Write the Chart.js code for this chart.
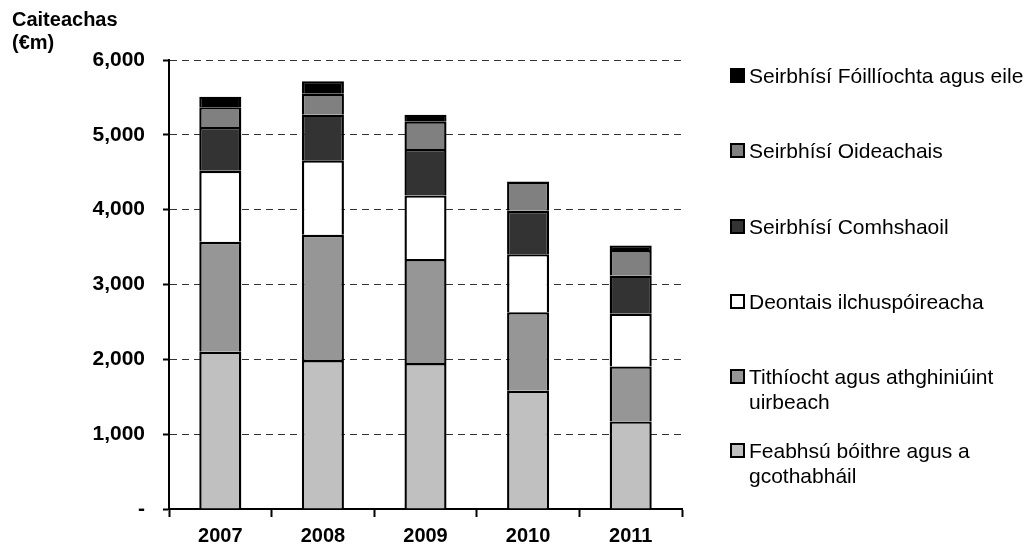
<!DOCTYPE html>
<html>
<head>
<meta charset="utf-8">
<script src="https://cdn.jsdelivr.net/npm/chart.js@4"></script>
<style>
    html, body { margin: 0; padding: 0; background: #fff; }
    #wrap { position: relative; width: 1034px; height: 549px; font-family: "Liberation Sans", Arial, sans-serif; }
    #title { position: absolute; left: 12px; top: 8px; font-weight: bold; font-size: 20px; line-height: 23px; color: #000; }
    .leg-item { position: absolute; left: 730px; font-size: 21px; line-height: 25px; color: #000; }
    .leg-box { position: absolute; left: 0; top: 5px; width: 11px; height: 11px; border: 2px solid #000; }
    .leg-text { position: absolute; left: 19px; top: 0; width: 300px; white-space: nowrap; }
</style>
</head>
<body>
<div id="wrap">
    <canvas id="spendChart"></canvas>
    <div id="title">Caiteachas<br>(€m)</div>
</div>
<script>
'use strict';

const years = ['2007', '2008', '2009', '2010', '2011'];

// stack order bottom to top
const roads = [2100, 1990, 1950, 1580, 1170];
const housing = [1470, 1675, 1390, 1050, 735];
const multiGrants = [950, 995, 850, 775, 705];
const environment = [585, 610, 620, 580, 510];
const education = [265, 280, 370, 390, 340];
const leisure = [140, 165, 90, 0, 60];

const seriesNames = [
    'Feabhsú bóithre agus a gcothabháil',
    'Tithíocht agus athghiniúint uirbeach',
    'Deontais ilchuspóireacha',
    'Seirbhísí Comhshaoil',
    'Seirbhísí Oideachais',
    'Seirbhísí Fóillíochta agus eile'
];
const seriesValues = [roads, housing, multiGrants, environment, education, leisure];
const seriesColors = ['#c0c0c0', '#969696', '#ffffff', '#333333', '#808080', '#000000'];

// legend wrapping as in the original
const legendLines = [
    ['Feabhsú bóithre agus a', 'gcothabháil'],
    ['Tithíocht agus athghiniúint', 'uirbeach'],
    ['Deontais ilchuspóireacha'],
    ['Seirbhísí Comhshaoil'],
    ['Seirbhísí Oideachais'],
    ['Seirbhísí Fóillíochta agus eile']
];
const legendCentres = [450, 376, 301, 226, 150, 75];

const yMax = 6000;
const yStep = 1000;

document.addEventListener('DOMContentLoaded', () => {
    const wrap = document.getElementById('wrap');
    const canvas = document.getElementById('spendChart');
    canvas.width = 1034;
    canvas.height = 549;

    const datasets = seriesNames.map((name, i) => ({
        label: name,
        data: seriesValues[i],
        backgroundColor: seriesColors[i],
        borderColor: '#000',
        borderWidth: 2.4,
        borderSkipped: 'start',
        barPercentage: 0.41,
        categoryPercentage: 1
    }));

    new Chart(canvas, {
        type: 'bar',
        data: { labels: years, datasets: datasets },
        options: {
            responsive: false,
            animation: false,
            layout: { padding: { top: 60, right: 352, left: 0, bottom: 0 } },
            plugins: {
                legend: { display: false },
                tooltip: { enabled: false }
            },
            scales: {
                x: {
                    stacked: true,
                    afterFit: (scale) => { scale.height = 40; },
                    border: { display: true, color: '#000', width: 2 },
                    grid: {
                        display: true,
                        drawOnChartArea: false,
                        tickLength: 8,
                        tickColor: '#000',
                        tickWidth: 2
                    },
                    ticks: {
                        color: '#000',
                        padding: 7,
                        font: { family: 'Liberation Sans', size: 20, weight: 'bold' }
                    }
                },
                y: {
                    stacked: true,
                    min: 0,
                    max: yMax,
                    afterFit: (scale) => { scale.width = 169; },
                    border: { display: true, color: '#000', width: 2, dash: [7, 5] },
                    grid: {
                        color: '#333',
                        lineWidth: 1,
                        tickLength: 6,
                        tickColor: '#000',
                        tickWidth: 2,
                        tickBorderDash: []
                    },
                    ticks: {
                        stepSize: yStep,
                        color: '#000',
                        padding: 18,
                        font: { family: 'Liberation Sans', size: 21, weight: 'bold' },
                        callback: (v) => v === 0 ? '-' : v.toLocaleString('en-US')
                    }
                }
            }
        }
    });

    legendLines.forEach((lines, i) => {
        const item = document.createElement('div');
        item.className = 'leg-item';
        item.style.top = (legendCentres[i] - 12.5) + 'px';
        const box = document.createElement('div');
        box.className = 'leg-box';
        box.style.background = seriesColors[i];
        const text = document.createElement('div');
        text.className = 'leg-text';
        text.innerHTML = lines.join('<br>');
        item.appendChild(box);
        item.appendChild(text);
        wrap.appendChild(item);
    });
});
</script>
</body>
</html>
